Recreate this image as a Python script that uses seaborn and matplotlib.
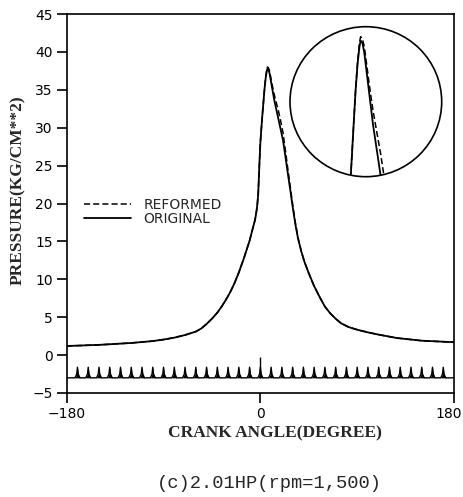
import matplotlib
matplotlib.use("Agg")
import matplotlib.pyplot as plt
import matplotlib.patches as mpatches
import matplotlib.transforms as mtransforms
import numpy as np
import pandas as pd
import seaborn as sns

# ── Data ─────────────────────────────────────────────────────────────────────

crank_angle = [-180, -150, -120, -100, -90, -80, -70, -60, -55, -50, -45, -40,
               -36, -32, -28, -24, -20, -15, -10, -8, -6.5, -5, -4, -3, -2,
               -1.5, -0.7, 0, 1.5, 3, 4, 5, 6, 6.6, 7.5, 8.5, 10, 11.5, 13,
               15, 17, 19, 21, 23, 25.5, 28, 30, 32.5, 35, 38, 41, 45, 50, 55,
               60, 65, 70, 75, 82, 90, 100, 110, 127, 150, 180]
p_original = [1.2, 1.35, 1.6, 1.85, 2.05, 2.3, 2.65, 3.1, 3.5, 4.1, 4.8, 5.6,
              6.4, 7.3, 8.3, 9.5, 10.9, 12.9, 15.1, 16.2, 17.0, 17.8, 18.6,
              19.6, 21.2, 23.0, 25.8, 28.0, 31.0, 33.6, 35.3, 36.6, 37.5, 37.8,
              37.7, 37.2, 36.0, 34.8, 33.6, 32.3, 31.0, 29.7, 28.4, 26.5, 24.0,
              21.6, 19.6, 17.3, 15.4, 13.7, 12.3, 10.8, 9.1, 7.7, 6.4, 5.5,
              4.8, 4.2, 3.7, 3.35, 3.0, 2.7, 2.25, 1.9, 1.7]
p_reformed = [1.2, 1.35, 1.6, 1.85, 2.05, 2.3, 2.65, 3.1, 3.5, 4.1, 4.8, 5.6,
              6.4, 7.3, 8.3, 9.5, 10.9, 12.9, 15.1, 16.2, 17.0, 17.8, 18.6,
              19.6, 21.2, 23.0, 25.8, 28.0, 31.0, 33.6, 35.3, 36.7, 37.7, 38.0,
              37.9, 37.5, 36.4, 35.3, 34.3, 33.2, 32.1, 30.8, 29.4, 27.3, 24.6,
              22.0, 19.9, 17.5, 15.5, 13.7, 12.3, 10.8, 9.1, 7.7, 6.4, 5.5,
              4.8, 4.2, 3.7, 3.35, 3.0, 2.7, 2.25, 1.9, 1.7]

# crank-angle encoder pulses along the bottom
pulse_angles = [-170, -160, -150, -140, -130, -120, -110, -100, -90, -80, -70,
                -60, -50, -40, -30, -20, -10, 0, 10, 20, 30, 40, 50, 60, 70,
                80, 90, 100, 110, 120, 130, 140, 150, 160, 170]
pulse_base = -3.0
pulse_peak = -1.6
tdc_peak = -0.2

x_ticks = [-180, 0, 180]
y_ticks = [-5, 0, 5, 10, 15, 20, 25, 30, 35, 40, 45]

curves = pd.DataFrame({"angle": crank_angle,
                       "original": p_original,
                       "reformed": p_reformed})

# pulse trace built from the pulse list
px, py = [-180], [pulse_base]
for a in pulse_angles:
    h = pulse_peak - pulse_base
    px += [a - 2.3, a - 0.7, a, a + 0.7, a + 2.3]
    py += [pulse_base, pulse_base + 0.35 * h, pulse_peak,
           pulse_base + 0.35 * h, pulse_base]
px.append(180)
py.append(pulse_base)

# ── Style ────────────────────────────────────────────────────────────────────

sns.set_style("ticks")
plt.rcParams.update({
    "font.family": ["DejaVu Sans"],
    "axes.linewidth": 1.2,
    "xtick.major.width": 1.2,
    "ytick.major.width": 1.2,
    "xtick.major.size": 7,
    "ytick.major.size": 7,
    "xtick.color": "black",
    "ytick.color": "black",
    "axes.edgecolor": "black",
})

fig = plt.figure(figsize=(4.64, 4.97), dpi=100)
W, H = 464, 497
ax = fig.add_axes([66.7 / W, 1 - 393 / H, (454 - 66.7) / W, (393 - 14) / H])

sns.lineplot(data=curves, x="angle", y="original", ax=ax, color="black",
             lw=1.3, label="ORIGINAL", sort=False, estimator=None)
sns.lineplot(data=curves, x="angle", y="reformed", ax=ax, color="black",
             lw=1.1, ls=(0, (4, 2)), label="REFORMED", sort=False, estimator=None)

sns.lineplot(x=px, y=py, ax=ax, color="black", lw=1.0, sort=False,
             estimator=None)
ax.fill_between(px, py, pulse_base, color="black", lw=0)
ax.vlines(0, pulse_base, tdc_peak, color="black", lw=1.0)

ax.set_xlim(-180, 180)
ax.set_ylim(-5, 45)
ax.set_xticks(x_ticks)
ax.set_yticks(y_ticks)
ax.set_xticklabels(["\u2212180", "0", "180"])
ax.set_yticklabels([("\u22125" if v < 0 else str(v)) for v in y_ticks])
ax.tick_params(labelsize=10, pad=3)
# last x label sits at the figure edge; nudge it in a little
last = ax.get_xticklabels()[-1]
last.set_transform(last.get_transform() +
                   mtransforms.ScaledTranslation(-5 / 100, 0, fig.dpi_scale_trans))

lab_font = {"family": "Liberation Serif", "weight": "bold", "size": 12.5}
ax.set_xlabel("CRANK ANGLE(DEGREE)", fontdict=lab_font)
ax.set_ylabel("PRESSURE(KG/CM**2)", fontdict=lab_font)
ax.xaxis.set_label_coords(0.538, -0.085)
ax.yaxis.set_label_coords(-0.105, 0.536)

handles, labels = ax.get_legend_handles_labels()
order = [labels.index("REFORMED"), labels.index("ORIGINAL")]
ax.legend([handles[i] for i in order], [labels[i] for i in order],
          loc="upper left", bbox_to_anchor=(0.03, 0.53), borderaxespad=0,
          frameon=False, fontsize=10, handlelength=3.4, handletextpad=0.9,
          labelspacing=0.0)

# ── Magnified peak inside a circle ───────────────────────────────────────────

ax_in = fig.add_axes([290 / W, 1 - 176.7 / H, 151.7 / W, 150 / H])
ax_in.set_axis_off()
circle = mpatches.Ellipse((0.5, 0.5), 1, 1, transform=ax_in.transAxes,
                          fill=False, ec="black", lw=1.2, clip_on=False)
ax_in.add_patch(circle)
sns.lineplot(data=curves, x="angle", y="original", ax=ax_in, color="black",
             lw=1.3, sort=False, estimator=None, legend=False)
sns.lineplot(data=curves, x="angle", y="reformed", ax=ax_in, color="black",
             lw=1.1, ls=(0, (4, 2)), sort=False, estimator=None, legend=False)
for ln in ax_in.lines:
    ln.set_clip_path(circle)
ax_in.set_xlim(-29.8, 48.4)
ax_in.set_ylim(31, 38.5)

fig.text(269 / W, 1 - 483 / H, "(c)2.01HP(rpm=1,500)", ha="center",
         va="center", family="Liberation Mono", fontsize=13.5)

fig.savefig("out.png", dpi=100)
